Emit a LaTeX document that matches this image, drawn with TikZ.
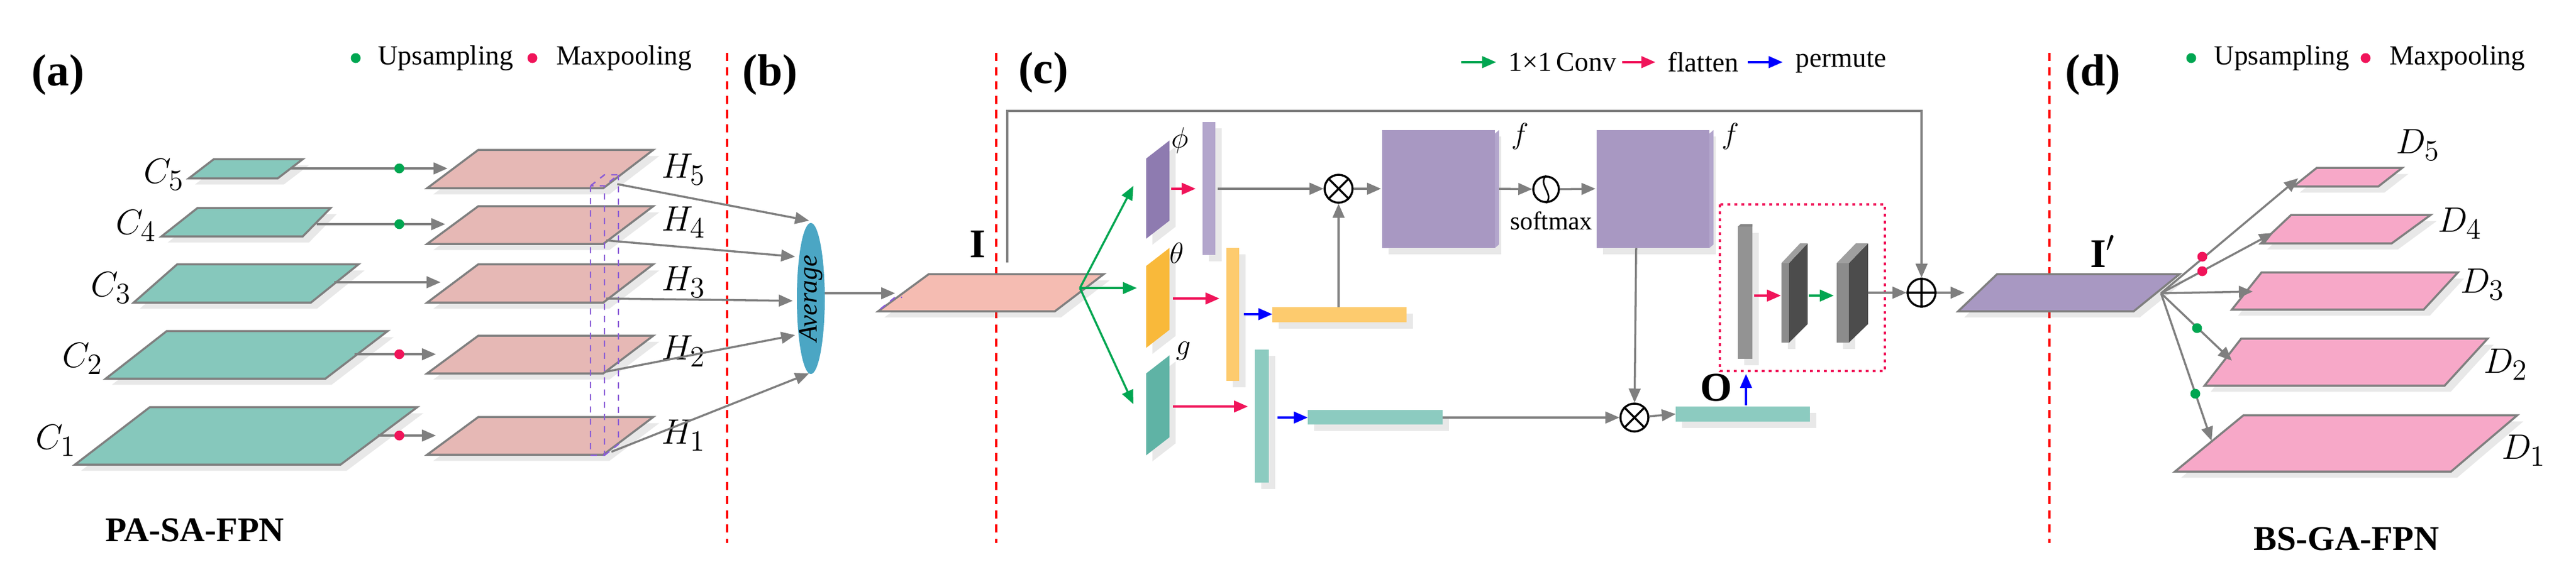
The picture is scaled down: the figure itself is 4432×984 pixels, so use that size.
\documentclass[tikz,border=0pt]{standalone}
\usepackage{fontspec}
\setmainfont{Liberation Serif}
\usetikzlibrary{arrows.meta,shadows,shapes.geometric}
\definecolor{cteal}{HTML}{86C8BC}
\definecolor{chsal}{HTML}{E6B8B5}
\definecolor{csal}{HTML}{F5BCB2}
\definecolor{cpurp}{HTML}{A898C2}
\definecolor{cpurpd}{HTML}{8E7BB0}
\definecolor{clav}{HTML}{B3A6CC}
\definecolor{corg}{HTML}{F9B93A}
\definecolor{corgl}{HTML}{FDCB6E}
\definecolor{ctealdk}{HTML}{5FB3A5}
\definecolor{ctealb}{HTML}{8CCBC0}
\definecolor{cpink}{HTML}{F7A8C8}
\definecolor{cblue}{HTML}{4BA6C4}
\definecolor{cgreen}{HTML}{00A651}
\definecolor{cred}{HTML}{F0145A}
\definecolor{cline}{HTML}{7F7F7F}
\definecolor{cviol}{HTML}{8A5CD6}
\tikzset{
 shd/.style={drop shadow={opacity=0.18,shadow xshift=3pt,shadow yshift=-3pt}},
 pl/.style={draw=cline,line width=1pt,shd},
 ga/.style={draw=cline,line width=1pt,-{Triangle[length=0.24cm,width=0.2cm]}},
 gre/.style={draw=cgreen,line width=1pt,-{Triangle[length=0.24cm,width=0.2cm]}},
 rea/.style={draw=cred,line width=1pt,-{Triangle[length=0.24cm,width=0.2cm]}},
 blu/.style={draw=blue,line width=1pt,-{Triangle[length=0.24cm,width=0.2cm]}},
 sep/.style={draw=red,line width=1pt,dash pattern=on 4pt off 3pt},
 dot/.style={circle,inner sep=0pt,minimum size=0.17cm},
 lab/.style={font=\fontsize{22pt}{24pt}\selectfont\bfseries},
 leg/.style={font=\fontsize{13.5pt}{15pt}\selectfont,anchor=west,inner sep=0pt},
 sym/.style={font=\fontsize{19pt}{21pt}\selectfont},
 op/.style={circle,draw=black,line width=1pt,minimum size=0.48cm,inner sep=0pt},
 ttl/.style={font=\fontsize{17pt}{19pt}\selectfont\bfseries},
}
\newcommand\parall[8]{\path[pl,fill=#1] (#2,#7)--(#3,#6)--(#4,#6)--(#5,#7)--cycle; \coordinate (#8) at (#2,#7);}
\begin{document}
\begin{tikzpicture}[x=0.01cm,y=-0.01cm]
\useasboundingbox (0,0) rectangle (4432,984);
% separators
\draw[sep] (1251,91)--(1251,935);
\draw[sep] (1714,91)--(1714,935);
\draw[sep] (3526,91)--(3526,935);
% labels
\node[lab] (la) at (100,129) {(a)};
\node[lab] (lb) at (1325,129) {(b)};
\node[lab] (lc) at (1795,125) {(c)};
\node[lab] (ld) at (3601,129) {(d)};
\node[ttl] (t1) at (335,913) {PA-SA-FPN};
\node[ttl] (t2) at (4037,928) {BS-GA-FPN};
% legend a
\node[dot,fill=cgreen] (lga) at (612,100) {};
\node[leg] (lgat) at (650,100) {Upsampling};
\node[dot,fill=cred] (lra) at (916,100) {};
\node[leg] (lrat) at (957,100) {Maxpooling};
% legend d
\node[dot,fill=cgreen] (lgd) at (3770,100) {};
\node[leg] (lgdt) at (3809,100) {Upsampling};
\node[dot,fill=cred] (lrd) at (4070,100) {};
\node[leg] (lrdt) at (4111,100) {Maxpooling};
% legend c
\coordinate (g1) at (2514,107); \coordinate (g2) at (2574,107);
\draw[gre] (g1)--(g2);
\node[leg] (lct1) at (2595,107) {1×1\,Conv};
\coordinate (r1) at (2791,107); \coordinate (r2) at (2848,107);
\draw[rea] (r1)--(r2);
\node[leg] (lct2) at (2869,107) {flatten};
\coordinate (b1) at (3007,107); \coordinate (b2) at (3067,107);
\draw[blu] (b1)--(b2);
\node[leg] (lct3) at (3089,107) {permute};
% ---------- (a)
\parall{cteal}{325}{368}{521}{478}{274}{307}{C5}
\parall{cteal}{278}{340}{569}{521}{358}{407}{C4}
\parall{cteal}{230}{305}{617}{535}{455}{521}{C3}
\parall{cteal}{182}{287}{667}{560}{570}{652}{C2}
\parall{cteal}{129}{258}{718}{586}{701}{800}{C1}
\foreach \t/\b/\n in {258/324/H5,355/420/H4,455/521/H3,578/643/H2,718/783/H1}{
 \parall{chsal}{735}{823}{1124}{1038}{\t}{\b}{\n}}
\node[sym] (lC5) at (282,301) {$C_5$};
\node[sym] (lC4) at (234,389) {$C_4$};
\node[sym] (lC3) at (191,496) {$C_3$};
\node[sym] (lC2) at (142,618) {$C_2$};
\node[sym] (lC1) at (96,759) {$C_1$};
\node[sym] (lH5) at (1176,292) {$H_5$};
\node[sym] (lH4) at (1176,383) {$H_4$};
\node[sym] (lH3) at (1176,486) {$H_3$};
\node[sym] (lH2) at (1176,605) {$H_2$};
\node[sym] (lH1) at (1176,750) {$H_1$};
% C->H arrows
\foreach \y/\xs/\xe/\n in {290/500/770/5,386/545/766/4,486/575/758/3,610/610/750/2,750/650/750/1}{
 \coordinate (cs\n) at (\xs,\y); \coordinate (ce\n) at (\xe,\y);
 \draw[ga] (cs\n)--(ce\n);}
\node[dot,fill=cgreen] (d5) at (687,290) {};
\node[dot,fill=cgreen] (d4) at (687,386) {};
\node[dot,fill=cred] (d2) at (687,610) {};
\node[dot,fill=cred] (d1) at (687,750) {};
% purple dashed column
\draw[dashed,draw=cviol,line width=0.7pt] (1016,320)--(1016,784)--(1040,784)--(1040,320)--cycle
 (1040,784)--(1064,765)--(1064,301) (1016,320)--(1040,301)--(1064,301)--(1040,320);
% Average
\node[ellipse,fill=cblue,minimum width=0.48cm,minimum height=2.6cm,inner sep=0pt] (avg) at (1395,514) {};
\node[rotate=90,font=\fontsize{13pt}{15pt}\selectfont\itshape] (avgt) at (1395,514) {Average};
\coordinate (h5o) at (1062,317); \coordinate (h5e) at (1392,380);
\coordinate (h4o) at (1043,414); \coordinate (h4e) at (1368,442);
\coordinate (h3o) at (1043,514); \coordinate (h3e) at (1364,518);
\coordinate (h2o) at (1043,640); \coordinate (h2e) at (1368,577);
\coordinate (h1o) at (1052,778); \coordinate (h1e) at (1392,643);
\foreach \n in {5,4,3,2,1}{\draw[ga] (h\n o)--(h\n e);}
% ---------- (c)
\parall{csal}{1511}{1598}{1899}{1815}{472}{536}{Ip}
\draw[dashed,draw=cviol,line width=0.7pt] (1515,532)--(1540,512)--(1552,512);
\node[font=\fontsize{20pt}{22pt}\selectfont\bfseries] (Il) at (1682,420) {I};
\coordinate (avo) at (1419,505); \coordinate (Iin) at (1540,505);
\draw[ga] (avo)--(Iin);
\coordinate (Ir) at (1858,496);
% skip
\node[op] (oplus) at (3306,504) {};
\draw[line width=1pt] (oplus.north)--(oplus.south) (oplus.west)--(oplus.east);
\coordinate (sk0) at (1733,452); \coordinate (sk1) at (1733,191); \coordinate (sk2) at (3306,191);
\draw[ga] (sk0)--(sk1)--(sk2)--(oplus);
% branch plates
\path[shd,fill=cpurpd] (1972,273)--(2012,242)--(2012,380)--(1972,411)--cycle;
\path[shd,fill=corg] (1972,458)--(2012,427)--(2012,568)--(1972,599)--cycle;
\path[shd,fill=ctealdk] (1972,643)--(2012,612)--(2012,753)--(1972,784)--cycle;
\coordinate (phiin) at (1950,320); \coordinate (thin) at (1956,496); \coordinate (gin) at (1950,696);
\draw[gre] (Ir)--(phiin); \draw[gre] (Ir)--(thin); \draw[gre] (Ir)--(gin);
\node[font=\fontsize{15pt}{17pt}\selectfont] (phl) at (2030,242) {$\phi$};
\node[font=\fontsize{15pt}{17pt}\selectfont] (thl) at (2025,436) {$\theta$};
\node[font=\fontsize{15pt}{17pt}\selectfont] (gl) at (2036,605) {$g$};
% bars
\path[shd,fill=clav] (2069,210) rectangle (2091,439);
\path[shd,fill=corgl] (2110,427) rectangle (2132,656);
\path[shd,fill=ctealb] (2159,602) rectangle (2183,831);
\coordinate (pr1) at (2015,325); \coordinate (pr2) at (2057,325);
\coordinate (tr1) at (2018,514); \coordinate (tr2) at (2098,514);
\coordinate (gr1) at (2018,700); \coordinate (gr2) at (2147,700);
\draw[rea] (pr1)--(pr2); \draw[rea] (tr1)--(tr2); \draw[rea] (gr1)--(gr2);
% theta flat
\path[shd,fill=corgl] (2189,529) rectangle (2420,555);
\coordinate (tb1) at (2140,541); \coordinate (tb2) at (2189,541);
\draw[blu] (tb1)--(tb2);
% g flat
\path[shd,fill=ctealb] (2250,706) rectangle (2482,731);
\coordinate (gb1) at (2198,719); \coordinate (gb2) at (2250,719);
\draw[blu] (gb1)--(gb2);
% otimes 1
\node[op] (ot1) at (2303,325) {};
\draw[line width=1pt] (ot1.north west)--(ot1.south east) (ot1.north east)--(ot1.south west);
\coordinate (ph0) at (2095,325);
\draw[ga] (ph0)--(ot1);
\coordinate (tv) at (2303,529);
\draw[ga] (tv)--(ot1);
% f boxes
\path[shd,fill=cpurp] (2378,224) rectangle (2572,427);
\path[fill=clav] (2572,230)--(2579,224)--(2579,421)--(2572,427)--cycle;
\path[shd,fill=cpurp] (2747,224) rectangle (2941,427);
\path[fill=clav] (2941,230)--(2948,224)--(2948,421)--(2941,427)--cycle;
\coordinate (f1l) at (2376,325); \coordinate (f1r) at (2579,325);
\coordinate (f2l) at (2745,325); \coordinate (f2b) at (2815,427);
\draw[ga] (ot1)--(f1l);
\node[font=\fontsize{15pt}{17pt}\selectfont] (f1t) at (2615,235) {$f$};
\node[font=\fontsize{15pt}{17pt}\selectfont] (f2t) at (2977,235) {$f$};
\node[circle,draw=black,line width=1pt,minimum size=0.44cm,inner sep=0pt] (sm) at (2660,326) {};
\draw[line width=0.8pt] (sm.north) .. controls (2645,318) and (2675,334) .. (sm.south);
\draw[ga] (f1r)--(sm); \draw[ga] (sm)--(f2l);
\node[font=\fontsize{12.5pt}{14pt}\selectfont] (smt) at (2669,380) {softmax};
% otimes 2
\node[op] (ot2) at (2812,719) {};
\draw[line width=1pt] (ot2.north west)--(ot2.south east) (ot2.north east)--(ot2.south west);
\draw[ga] (f2b)--(ot2);
\coordinate (gbe) at (2482,719);
\draw[ga] (gbe)--(ot2);
\path[shd,fill=ctealb] (2883,700) rectangle (3114,726);
\coordinate (obl) at (2883,713);
\draw[ga] (ot2)--(obl);
\node[font=\fontsize{20pt}{22pt}\selectfont\bfseries] (Ol) at (2953,668) {O};
\coordinate (ou1) at (3004,698); \coordinate (ou2) at (3004,644);
\draw[blu] (ou1)--(ou2);
% dashed box
\draw[draw=cred,dotted,line width=1.4pt] (2959,352) rectangle (3243,639);
% gray blocks
\path[shd,fill=gray!85] (2990,390) rectangle (3015,618);
\path[fill=gray!60!black!70] (2990,390)--(2995,386)--(3015,386)--(3015,390)--cycle;
\path[shd,fill=gray!90] (3065,453) rectangle (3078,590);
\path[fill=gray!60!black] (3078,453)--(3110,419)--(3110,558)--(3078,590)--cycle;
\path[fill=gray!75] (3065,453)--(3097,419)--(3110,419)--(3078,453)--cycle;
\path[shd,fill=gray!90] (3160,453) rectangle (3181,590);
\path[fill=gray!60!black] (3181,453)--(3214,419)--(3214,558)--(3181,590)--cycle;
\path[fill=gray!75] (3160,453)--(3193,419)--(3214,419)--(3181,453)--cycle;
\coordinate (k1) at (3018,509); \coordinate (k2) at (3064,509);
\coordinate (k3) at (3112,509); \coordinate (k4) at (3155,509);
\coordinate (k5) at (3214,504);
\draw[rea] (k1)--(k2); \draw[gre] (k3)--(k4); \draw[ga] (k5)--(oplus);
% ---------- (d)
\parall{cpurp}{3369}{3436}{3750}{3671}{472}{536}{Ipr}
\coordinate (ipin) at (3380,504);
\draw[ga] (oplus)--(ipin);
\node[font=\fontsize{20pt}{22pt}\selectfont\bfseries] (Ipl) at (3618,433) {I$'$};
\parall{cpink}{3946}{3986}{4133}{4092}{289}{321}{D5}
\parall{cpink}{3890}{3942}{4182}{4115}{370}{419}{D4}
\parall{cpink}{3840}{3891}{4229}{4170}{469}{533}{D3}
\parall{cpink}{3793}{3856}{4280}{4206}{583}{664}{D2}
\parall{cpink}{3742}{3860}{4331}{4217}{715}{812}{D1}
\node[sym] (lD5) at (4160,250) {$D_5$};
\node[sym] (lD4) at (4232,385) {$D_4$};
\node[sym] (lD3) at (4271,490) {$D_3$};
\node[sym] (lD2) at (4311,628) {$D_2$};
\node[sym] (lD1) at (4342,776) {$D_1$};
\coordinate (io) at (3718,505);
\coordinate (e5) at (3954,307); \coordinate (e4) at (3911,401); \coordinate (e3) at (3876,502);
\coordinate (e2) at (3840,621); \coordinate (e1) at (3805,759);
\foreach \n in {5,4,3,2,1}{\draw[ga] (io)--(e\n);}
\node[dot,fill=cred] (m1) at (3789,442) {};
\node[dot,fill=cred] (m2) at (3789,467) {};
\node[dot,fill=cgreen] (u1) at (3780,565) {};
\node[dot,fill=cgreen] (u2) at (3777,678) {};
\end{tikzpicture}
\end{document}
